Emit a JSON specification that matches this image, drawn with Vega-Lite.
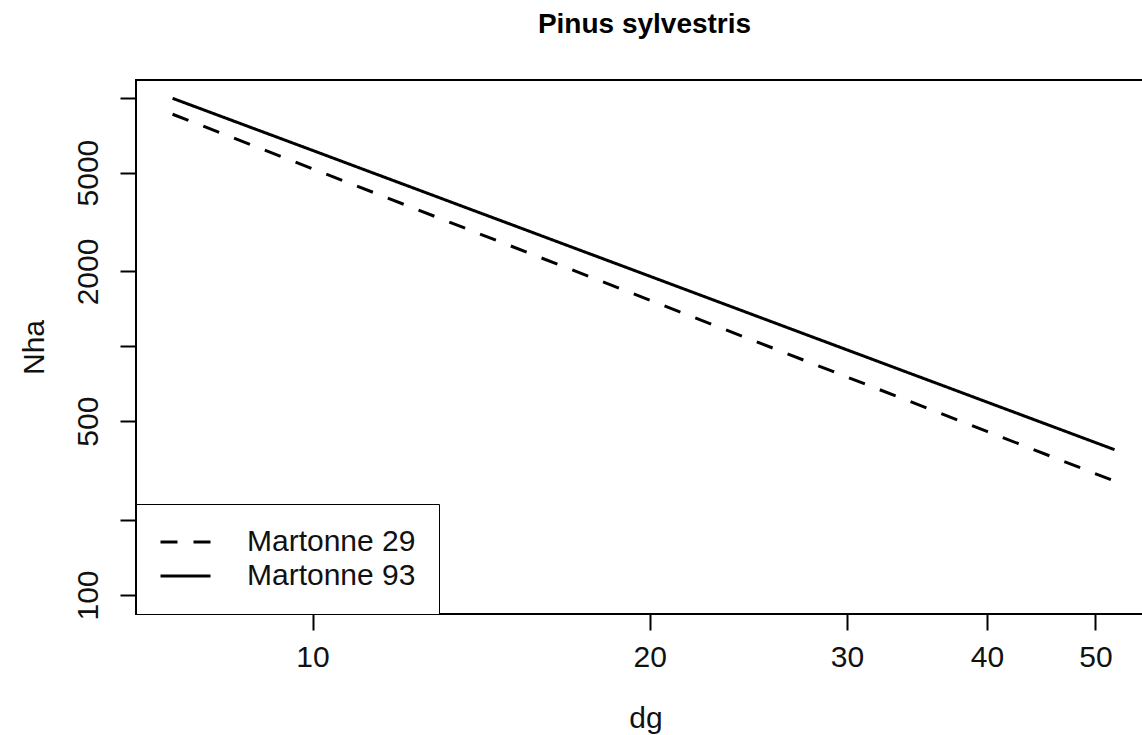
{
  "$schema": "https://vega.github.io/schema/vega-lite/v6.json",
  "autosize": {"type": "none"},
  "padding": {"left": 136, "top": 80, "right": 0, "bottom": 121},
  "width": 1007,
  "height": 534,
  "background": "white",
  "title": {
    "text": "Pinus sylvestris",
    "font": "Liberation Sans",
    "fontSize": 28,
    "fontWeight": "bold",
    "color": "black",
    "anchor": "middle",
    "baseline": "alphabetic",
    "offset": 19,
    "dx": 5
  },
  "config": {
    "view": {"stroke": "black", "strokeWidth": 2},
    "font": "Liberation Sans",
    "axis": {
      "grid": false,
      "domain": false,
      "tickColor": "black",
      "tickWidth": 2,
      "tickSize": 16,
      "labelColor": "#111",
      "labelFontSize": 30,
      "labelFont": "Liberation Sans",
      "titleFont": "Liberation Sans",
      "titleFontSize": 30,
      "titleFontWeight": "normal",
      "titleColor": "#111"
    }
  },
  "data": {
    "values": [
      {"dg": 7.5, "Nha": 8580, "series": "Martonne 29"},
      {"dg": 10, "Nha": 5180, "series": "Martonne 29"},
      {"dg": 20, "Nha": 1534, "series": "Martonne 29"},
      {"dg": 30, "Nha": 753, "series": "Martonne 29"},
      {"dg": 40, "Nha": 455, "series": "Martonne 29"},
      {"dg": 52, "Nha": 287, "series": "Martonne 29"},
      {"dg": 7.5, "Nha": 9945, "series": "Martonne 93"},
      {"dg": 10, "Nha": 6140, "series": "Martonne 93"},
      {"dg": 20, "Nha": 1915, "series": "Martonne 93"},
      {"dg": 30, "Nha": 968, "series": "Martonne 93"},
      {"dg": 40, "Nha": 597, "series": "Martonne 93"},
      {"dg": 52, "Nha": 384, "series": "Martonne 93"}
    ]
  },
  "mark": {"type": "line", "color": "black", "strokeWidth": 3},
  "encoding": {
    "x": {
      "field": "dg",
      "type": "quantitative",
      "scale": {"type": "log", "domain": [6.957, 55.13], "nice": false, "zero": false},
      "axis": {
        "title": "dg",
        "values": [10, 20, 30, 40, 50],
        "format": "d",
        "labelPadding": 12,
        "labelBaseline": "top",
        "titleBaseline": "alphabetic",
        "titleAnchor": "middle",
        "titleX": 509.5,
        "titleY": 113
      }
    },
    "y": {
      "field": "Nha",
      "type": "quantitative",
      "scale": {"type": "log", "domain": [83.85, 11782], "nice": false, "zero": false},
      "axis": {
        "title": "Nha",
        "values": [100, 200, 500, 1000, 2000, 5000, 10000],
        "labelExpr": "(datum.value == 100 || datum.value == 500 || datum.value == 2000 || datum.value == 5000) ? format(datum.value, 'd') : ''",
        "labelAngle": -90,
        "labelAlign": "center",
        "labelBaseline": "alphabetic",
        "labelPadding": 23,
        "labelOverlap": false,
        "labelBound": false,
        "labelFlush": false,
        "titleAngle": -90,
        "titleAlign": "center",
        "titleBaseline": "alphabetic",
        "titleX": -93,
        "titleY": 267
      }
    },
    "strokeDash": {
      "field": "series",
      "type": "nominal",
      "scale": {"domain": ["Martonne 29", "Martonne 93"], "range": [[17, 16], [1, 0]]},
      "legend": {
        "title": null,
        "orient": "bottom-left",
        "offset": 0,
        "padding": 23,
        "strokeColor": "black",
        "fillColor": "white",
        "symbolType": "stroke",
        "symbolSize": 2500,
        "symbolStrokeWidth": 3,
        "symbolStrokeColor": "black",
        "clipHeight": 30,
        "labelFontSize": 30,
        "labelFont": "Liberation Sans",
        "labelColor": "#111",
        "labelOffset": 35,
        "labelLimit": 400,
        "rowPadding": 4
      }
    }
  }
}
